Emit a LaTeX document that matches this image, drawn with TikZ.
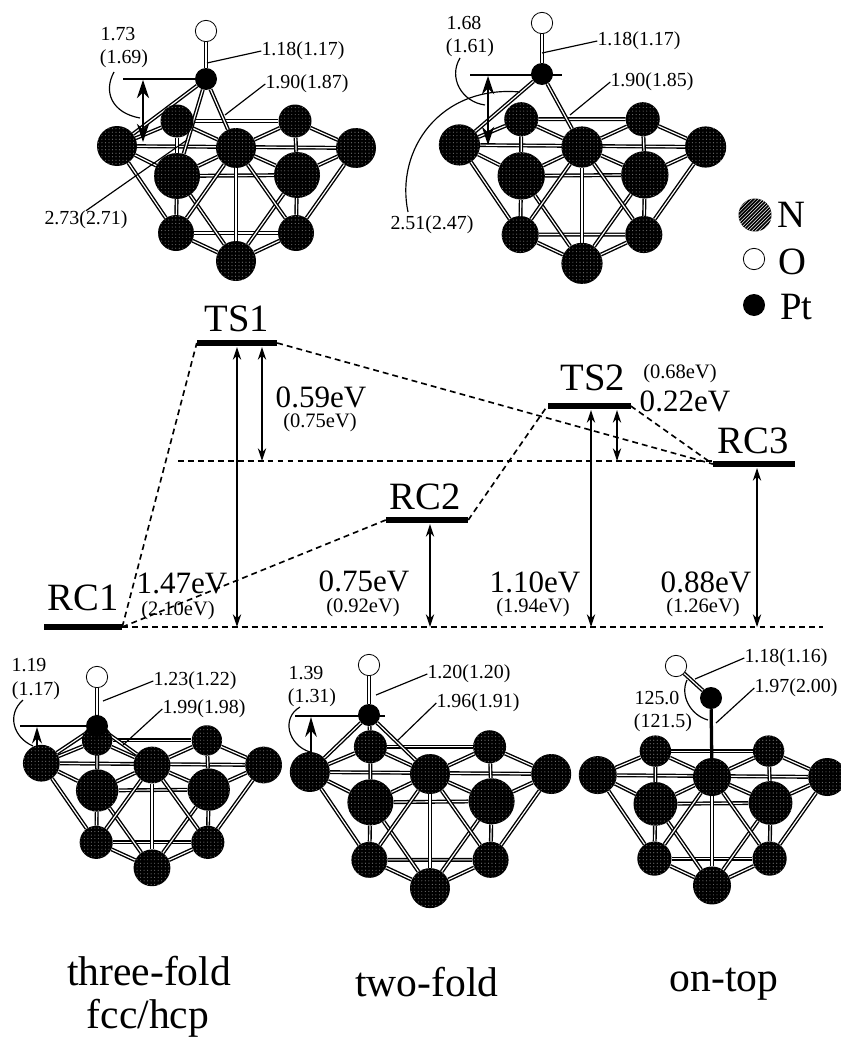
\documentclass[tikz,border=0pt]{standalone}
\usepackage{fontspec}
\setmainfont{Liberation Serif}
\usetikzlibrary{backgrounds,patterns,arrows.meta}

\tikzset{
  atom/.style={circle,fill=black,inner sep=0pt,minimum size=#1*0.06cm*\cs,
    postaction={pattern=dots,pattern color=black!55}},
  pt/.style={circle,fill=black,inner sep=0pt,minimum size=0.66cm},
  oxy/.style={circle,draw=black,fill=white,line width=0.7pt,inner sep=0pt,minimum size=0.64cm},
  bond/.style={draw=black,line width=1.2pt,double=white,double distance=1pt},
  lab/.style={inner sep=0pt,font=\fontsize{17}{17}\selectfont},
  big/.style={inner sep=0pt,font=\fontsize{33}{33}\selectfont},
  val/.style={inner sep=0pt,font=\fontsize{26.5}{26.5}\selectfont},
  sub/.style={inner sep=0pt,font=\fontsize{17.5}{17.5}\selectfont},
  site/.style={inner sep=0pt,font=\fontsize{35.5}{35.5}\selectfont},
  lvl/.style={fill=black,inner sep=0pt,minimum width=#1*0.03cm,minimum height=0.2cm},
  lead/.style={line width=1pt},
  dist/.style={line width=1.5pt},
  darr/.style={{Stealth[length=0.38cm,width=0.25cm]}-{Stealth[length=0.38cm,width=0.25cm]},line width=1.1pt},
  barr/.style={{Stealth[length=0.55cm,width=0.37cm]}-{Stealth[length=0.55cm,width=0.37cm]},line width=1.5pt},
  guide/.style={line width=1.4pt,dash pattern=on 5pt off 3.5pt},
}

% one Pt cluster: prefix, x, y, xscale, yscale, size
\newcommand{\cluster}[6]{
  \begin{scope}[name prefix=#1-,shift={(#2,#3)},xscale=#4,yscale=#5]
    \def\cs{#6}
    \node[atom=16.5] (b1) at (-59,-27) {};
    \node[atom=16.5] (b2) at (59,-27) {};
    \node[atom=20] (m1) at (-119,-2) {};
    \node[atom=20] (m2) at (0,0) {};
    \node[atom=20] (m3) at (120,0) {};
    \node[atom=23] (f1) at (-59,28) {};
    \node[atom=23] (f2) at (61,27) {};
    \node[atom=18] (l1) at (-60,85) {};
    \node[atom=18] (l2) at (60,85) {};
    \node[atom=20] (z) at (0,113) {};
    \begin{pgfonlayer}{background}
      \foreach \i/\j in {b1/b2,m1/b1,b1/m2,m2/b2,b2/m3,m1/m3,m1/f1,f1/m2,m2/f2,f2/m3,f1/f2,
          b1/f1,b2/f2,m1/l1,m3/l2,f1/l1,f2/l2,l1/l2,l1/z,l2/z,f1/z,f2/z,m2/z,m2/l1,m2/l2}
        \draw[bond] (\i) -- (\j);
    \end{pgfonlayer}
  \end{scope}
}

\begin{document}
\begin{tikzpicture}[x=0.03cm,y=-0.03cm]
  \useasboundingbox (0,0) rectangle (840,1039);

  \cluster{tl}{236}{148}{1}{1}{1}
  \cluster{tr}{582}{147}{1.03}{1.03}{1.03}
  \cluster{bl}{152}{765}{0.93}{0.91}{0.92}
  \cluster{bm}{430}{774}{1.01}{1.01}{1}
  \cluster{br}{712}{777}{0.96}{0.96}{0.95}

  % three-fold, transition state
  \node[pt] (tl-pt) at (206,79) {};
  \node[oxy] (tl-o) at (206,31) {};
  \node[lab] (tl-h) at (118,34) {1.73};
  \node[lab] (tl-ph) at (124,59) {(1.69)};
  \node[lab] (tl-co) at (303,51) {1.18(1.17)};
  \node[lab] (tl-pts) at (307,84) {1.90(1.87)};
  \node[lab] (tl-nn) at (86,220) {2.73(2.71)};
  \coordinate (tl-c1) at (207,63);
  \coordinate (tl-c2) at (225,115);
  \coordinate (tl-c3) at (187,140);
  \coordinate (tl-s) at (114,72);
  \coordinate (tl-t) at (140,118);
  \coordinate (tl-e) at (123,79);
  \coordinate (tl-u) at (143,80);
  \coordinate (tl-v) at (143,142);
  \begin{pgfonlayer}{background}
    \draw[bond] (tl-o) -- (tl-pt);
    \foreach \j in {m1,f1,m2}
      \draw[bond] (tl-pt) -- (tl-\j);
  \end{pgfonlayer}
  \draw[lead] (tl-co.west) -- (tl-c1);
  \draw[lead] (tl-pts.west) -- (tl-c2);
  \draw[lead] (tl-nn.north) -- (tl-c3);
  \draw[dist] (tl-e) -- (tl-pt);
  \draw[barr] (tl-u) -- (tl-v);
  \draw[lead] (tl-s) .. controls (103,92) and (112,113) .. (tl-t);

  % two-fold, transition state
  \node[pt] (tr-pt) at (542,74) {};
  \node[oxy] (tr-o) at (542,23) {};
  \node[lab] (tr-h) at (464,23) {1.68};
  \node[lab] (tr-ph) at (470,48) {(1.61)};
  \node[lab] (tr-co) at (639,41) {1.18(1.17)};
  \node[lab] (tr-pts) at (652,82) {1.90(1.85)};
  \node[lab] (tr-nn) at (432,225) {2.51(2.47)};
  \coordinate (tr-c1) at (542,53);
  \coordinate (tr-c2) at (570,115);
  \coordinate (tr-c3) at (520,92);
  \coordinate (tr-c4) at (408,212);
  \coordinate (tr-s) at (460,58);
  \coordinate (tr-t) at (485,105);
  \coordinate (tr-e) at (470,75);
  \coordinate (tr-f) at (562,75);
  \coordinate (tr-u) at (488,76);
  \coordinate (tr-v) at (488,145);
  \begin{pgfonlayer}{background}
    \draw[bond] (tr-o) -- (tr-pt);
    \foreach \j in {m1,m2}
      \draw[bond] (tr-pt) -- (tr-\j);
  \end{pgfonlayer}
  \draw[lead] (tr-co.west) -- (tr-c1);
  \draw[lead] (tr-pts.west) -- (tr-c2);
  \draw[dist] (tr-e) -- (tr-f);
  \draw[barr] (tr-u) -- (tr-v);
  \draw[lead] (tr-s) .. controls (448,78) and (462,102) .. (tr-t);
  \draw[lead] (tr-c4) .. controls (395,150) and (440,85) .. (tr-c3);

  % legend
  \node[circle,fill=black,minimum size=0.99cm,inner sep=0pt,
    postaction={pattern=north east lines,pattern color=white}] (lg-n) at (755,215) {};
  \node[oxy] (lg-o) at (754,259) {};
  \node[pt] (lg-pt) at (754,305) {};
  \node[big,anchor=west] (lg-nt) at (777,215) {N};
  \node[big,anchor=west] (lg-ot) at (778,262) {O};
  \node[big,anchor=west] (lg-ptt) at (780,307) {Pt};

  % energy levels
  \node[lvl=80] (TS1) at (237,343) {};
  \node[lvl=83] (TS2) at (589,406) {};
  \node[lvl=82] (RC3) at (754,464) {};
  \node[lvl=82] (RC2) at (427,520) {};
  \node[lvl=78] (RC1) at (83,627) {};
  \node[big] (TS1t) at (237,319) {TS1};
  \node[big] (TS2t) at (593,378) {TS2};
  \node[big] (RC3t) at (753,441) {RC3};
  \node[big] (RC2t) at (425,497) {RC2};
  \node[big] (RC1t) at (83,598) {RC1};
  \coordinate (base) at (823,627);
  \coordinate (mid) at (178,461);

  \draw[guide] (RC1.east) -- (base);
  \draw[guide] (mid) -- (mid -| RC3.west);
  \draw[guide] (RC1.east) -- (TS1.west);
  \draw[guide] (TS1.east) -- (RC3.west);
  \draw[guide] (RC1.east) -- (RC2.west);
  \draw[guide] (RC2.east) -- (TS2.west);
  \draw[guide] (TS2.east) -- (RC3.west);

  \coordinate (a1) at (237,347);
  \coordinate (a2) at (262,347);
  \coordinate (a3) at (430,524);
  \coordinate (a4) at (591,410);
  \coordinate (a5) at (617,410);
  \coordinate (a6) at (757,468);
  \draw[darr] (a1) -- (a1 |- base);
  \draw[darr] (a2) -- (a2 |- mid);
  \draw[darr] (a3) -- (a3 |- base);
  \draw[darr] (a4) -- (a4 |- base);
  \draw[darr] (a5) -- (a5 |- mid);
  \draw[darr] (a6) -- (a6 |- base);

  \node[val] (e1) at (321,397) {0.59eV};
  \node[sub] (e1s) at (320,423) {(0.75eV)};
  \node[val] (e2) at (182,583) {1.47eV};
  \node[sub] (e2s) at (178,611) {(2.10eV)};
  \node[val] (e3) at (364,581) {0.75eV};
  \node[sub] (e3s) at (363,608) {(0.92eV)};
  \node[val] (e4) at (535,582) {1.10eV};
  \node[sub] (e4s) at (533,608) {(1.94eV)};
  \node[val] (e5) at (706,582) {0.88eV};
  \node[sub] (e5s) at (703,608) {(1.26eV)};
  \node[val] (e6) at (685,401) {0.22eV};
  \node[sub] (e6s) at (680,374) {(0.68eV)};

  % three-fold
  \node[pt] (bl-pt) at (97,726) {};
  \node[oxy] (bl-o) at (97,677) {};
  \node[lab] (bl-h) at (29,665) {1.19};
  \node[lab] (bl-ph) at (36,691) {(1.17)};
  \node[lab] (bl-co) at (195,681) {1.23(1.22)};
  \node[lab] (bl-pts) at (204,709) {1.99(1.98)};
  \coordinate (bl-c1) at (103,701);
  \coordinate (bl-c2) at (123,745);
  \coordinate (bl-s) at (23,700);
  \coordinate (bl-t) at (33,746);
  \coordinate (bl-e) at (20,726);
  \coordinate (bl-u) at (37,746);
  \coordinate (bl-v) at (37,727);
  \begin{pgfonlayer}{background}
    \draw[bond] (bl-o) -- (bl-pt);
    \foreach \j in {m1,f1,m2,b1}
      \draw[bond] (bl-pt) -- (bl-\j);
  \end{pgfonlayer}
  \draw[lead] (bl-co.west) -- (bl-c1);
  \draw[lead] (bl-pts.west) -- (bl-c2);
  \draw[dist] (bl-e) -- (bl-pt);
  \draw[-{Stealth[length=0.5cm,width=0.3cm]},line width=1.4pt] (bl-u) -- (bl-v);
  \draw[lead] (bl-s) .. controls (6,715) and (14,738) .. (bl-t);

  % two-fold
  \node[pt] (bm-pt) at (369,715) {};
  \node[oxy] (bm-o) at (369,665) {};
  \node[lab] (bm-h) at (306,673) {1.39};
  \node[lab] (bm-ph) at (312,698) {(1.31)};
  \node[lab] (bm-co) at (469,674) {1.20(1.20)};
  \node[lab] (bm-pts) at (478,703) {1.96(1.91)};
  \coordinate (bm-c1) at (376,695);
  \coordinate (bm-c2) at (397,741);
  \coordinate (bm-s) at (300,707);
  \coordinate (bm-t) at (310,752);
  \coordinate (bm-e) at (295,716);
  \coordinate (bm-f) at (385,716);
  \coordinate (bm-u) at (311,755);
  \coordinate (bm-v) at (311,717);
  \begin{pgfonlayer}{background}
    \draw[bond] (bm-o) -- (bm-pt);
    \foreach \j in {m1,m2,b1}
      \draw[bond] (bm-pt) -- (bm-\j);
  \end{pgfonlayer}
  \draw[lead] (bm-co.west) -- (bm-c1);
  \draw[lead] (bm-pts.west) -- (bm-c2);
  \draw[dist] (bm-e) -- (bm-f);
  \draw[-{Stealth[length=0.6cm,width=0.35cm]},line width=1.4pt] (bm-u) -- (bm-v);
  \draw[lead] (bm-s) .. controls (281,718) and (288,745) .. (bm-t);

  % on-top
  \node[pt] (br-pt) at (711,698) {};
  \node[oxy] (br-o) at (676,666) {};
  \node[lab] (br-h) at (657,698) {125.0};
  \node[lab] (br-ph) at (663,723) {(121.5)};
  \node[lab] (br-co) at (786,658) {1.18(1.16)};
  \node[lab] (br-pts) at (796,688) {1.97(2.00)};
  \coordinate (br-c1) at (695,679);
  \coordinate (br-c2) at (716,723);
  \coordinate (br-c3) at (687,680);
  \coordinate (br-c4) at (708,720);
  \begin{pgfonlayer}{background}
    \draw[bond] (br-o) -- (br-pt);
    \draw[line width=2.8pt] (br-pt) -- (br-m2);
  \end{pgfonlayer}
  \draw[lead] (br-co.west) -- (br-c1);
  \draw[lead] (br-pts.west) -- (br-c2);
  \draw[lead] (br-c3) .. controls (680,695) and (690,715) .. (br-c4);

  % site names
  \node[site] (n1) at (149,971) {three-fold};
  \node[site] (n2) at (148,1018) {fcc/hcp};
  \node[site] (n3) at (427,982) {two-fold};
  \node[site] (n4) at (724,984) {on-top};
\end{tikzpicture}
\end{document}
